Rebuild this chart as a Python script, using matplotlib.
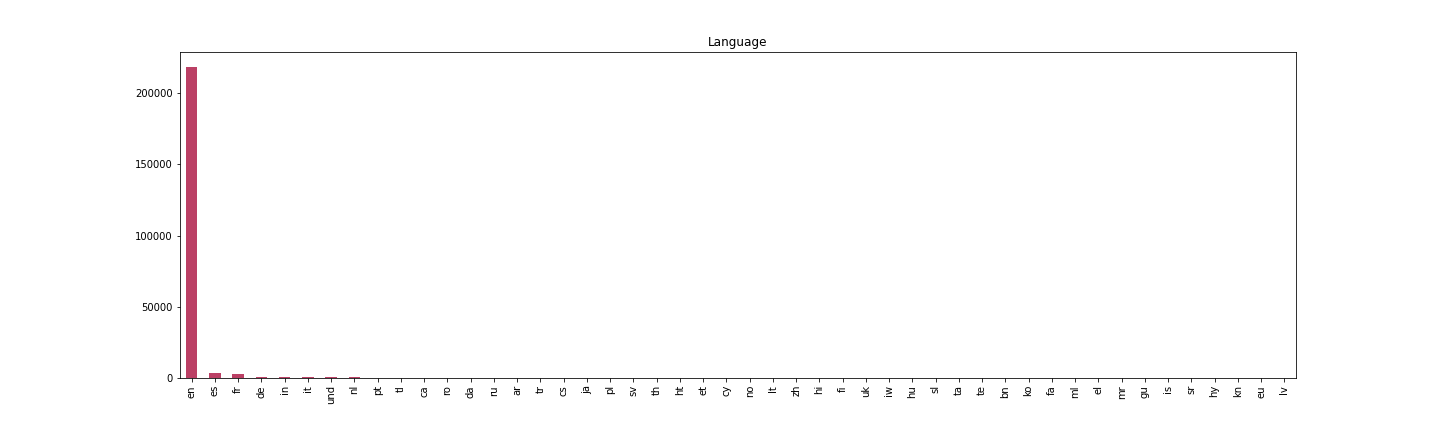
import matplotlib.pyplot as plt

languages = ["en", "es", "fr", "de", "in", "it", "und", "nl", "pt", "tl",
             "ca", "ro", "da", "ru", "ar", "tr", "cs", "ja", "pl", "sv",
             "th", "ht", "et", "cy", "no", "lt", "zh", "hi", "fi", "uk",
             "iw", "hu", "sl", "ta", "te", "bn", "ko", "fa", "ml", "el",
             "mr", "gu", "is", "sr", "hy", "kn", "eu", "lv"]
counts = [218200, 3600, 2900, 800, 750, 720, 700, 680, 300, 250,
          200, 180, 160, 150, 140, 130, 120, 110, 100, 90,
          80, 75, 70, 65, 60, 55, 50, 45, 40, 35,
          30, 28, 26, 24, 22, 20, 18, 16, 14, 12,
          10, 9, 8, 7, 6, 5, 4, 3]

fig, ax = plt.subplots(figsize=(20, 6), dpi=72)
fig.subplots_adjust(bottom=0.125)
x = range(len(languages))
ax.bar(x, counts, width=0.5, color="#bb4065")
ax.set_xticks(list(x))
ax.set_xticklabels(languages, rotation=90)
ax.set_xlim(-0.5, len(languages) - 0.5)
ax.set_title("Language")
plt.savefig("out.png")
